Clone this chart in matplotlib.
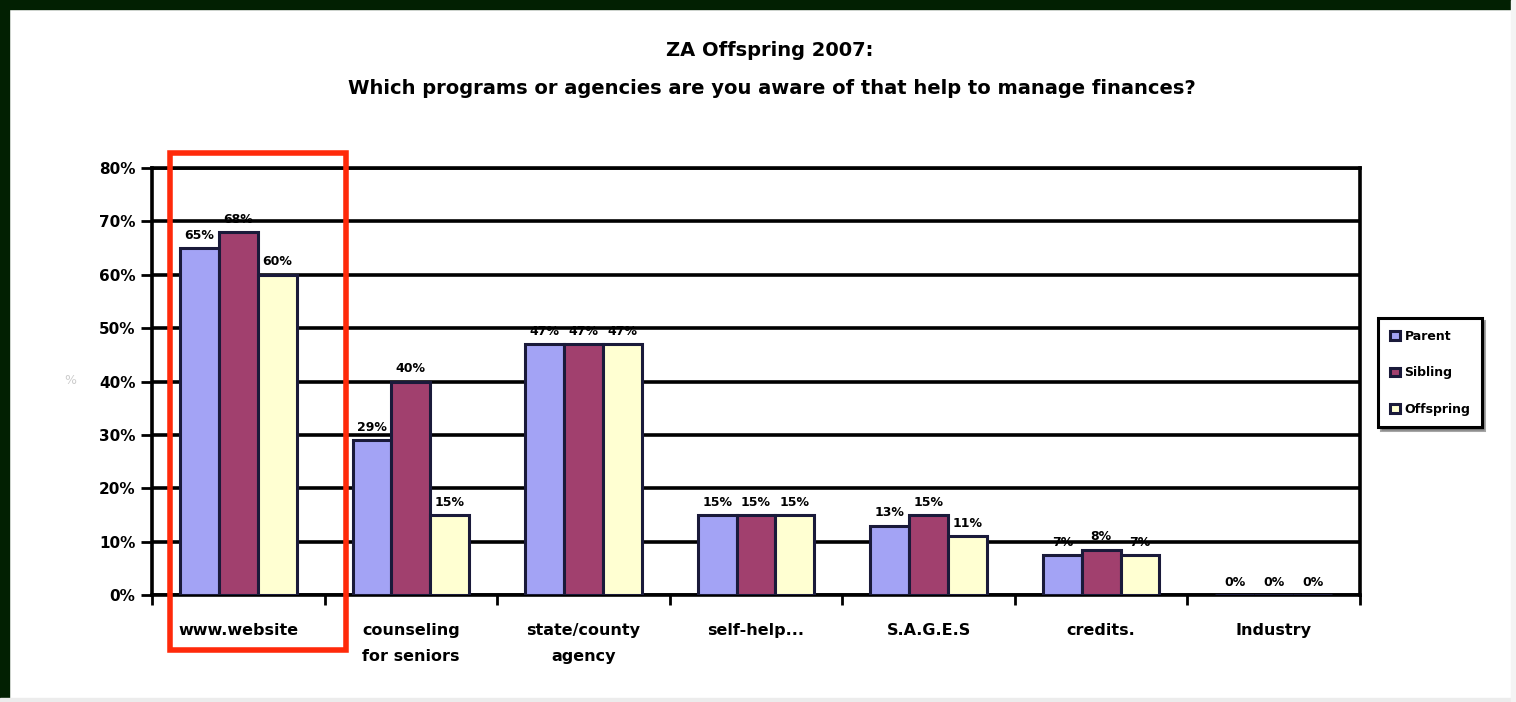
import matplotlib
matplotlib.use("Agg")
import matplotlib.pyplot as plt
import numpy as np
from matplotlib.patches import Rectangle

# ---- data ----
categories = ["www.website", "counseling\nfor seniors", "state/county\nagency", "self-help...",
              "S.A.G.E.S", "credits.", "Industry"]
series_names = ["Parent", "Sibling", "Offspring"]
parent = [0.65, 0.29, 0.47, 0.15, 0.13, 0.075, 0.0]
sibling = [0.68, 0.40, 0.47, 0.15, 0.15, 0.085, 0.0]
offspring = [0.60, 0.15, 0.47, 0.15, 0.11, 0.075, 0.0]
value_labels = [
    ["65%", "29%", "47%", "15%", "13%", "7%", "0%"],
    ["68%", "40%", "47%", "15%", "15%", "8%", "0%"],
    ["60%", "15%", "47%", "15%", "11%", "7%", "0%"],
]
ytick_values = [0, 0.1, 0.2, 0.3, 0.4, 0.5, 0.6, 0.7, 0.8]
ytick_labels = ["0%", "10%", "20%", "30%", "40%", "50%", "60%", "70%", "80%"]
title_lines = ["ZA Offspring 2007:",
               "Which programs or agencies are you aware of that help to manage finances?"]

colors = ["#A3A3F5", "#A1406E", "#FFFFD2"]

W, H = 1516, 702
fig = plt.figure(figsize=(W / 100, H / 100), dpi=100)
fig.patch.set_facecolor("white")

def px(x0, y0, x1, y1):
    return [x0 / W, 1 - y1 / H, (x1 - x0) / W, (y1 - y0) / H]

ax = fig.add_axes(px(152, 168, 1360, 595))
x = np.arange(len(categories))
bw = 0.225
all_series = [parent, sibling, offspring]
for i, (vals, col, name) in enumerate(zip(all_series, colors, series_names)):
    pos = x + (i - 1) * bw
    ax.bar(pos, vals, width=bw, color=col, edgecolor="#1a1a3a", linewidth=2.2,
           label=name, zorder=3)
    for xb, v, lab in zip(pos, vals, value_labels[i]):
        ax.text(xb, v + 0.012, lab, ha="center", va="bottom", fontsize=9,
                fontweight="bold", color="black", zorder=4)

ax.set_xlim(-0.5, len(categories) - 0.5)
ax.set_ylim(0, 0.8)
ax.set_yticks(ytick_values)
ax.set_yticklabels(ytick_labels, fontsize=11, fontweight="bold")
ax.yaxis.grid(True, color="black", linewidth=2.6, zorder=0)
ax.set_axisbelow(True)
ax.set_xticks(x)
ax.set_xticklabels(categories, fontsize=11.5, fontweight="bold", linespacing=1.9)
ax.tick_params(axis="x", which="major", length=0, pad=20)
ax.set_xticks(np.arange(-0.5, len(categories)), minor=True)
ax.tick_params(axis="x", which="minor", length=7, width=2, direction="out")
ax.tick_params(axis="y", length=8, width=2, direction="out", pad=4)
for s in ax.spines.values():
    s.set_linewidth(2.6)
    s.set_color("black")
ax.set_facecolor("white")

# faint y label
fig.text(70 / W, 1 - 380 / H, "%", fontsize=9, color="#cccccc", ha="center", va="center")

# title
fig.text(770 / W, 1 - 50 / H, title_lines[0], ha="center", va="center", fontsize=14,
         fontweight="bold")
fig.text(772 / W, 1 - 88 / H, title_lines[1], ha="center", va="center", fontsize=14,
         fontweight="bold")

# legend
leg = fig.legend(loc="upper left", bbox_to_anchor=(1372 / W, 1 - 312 / H),
                 prop={"weight": "bold", "size": 9}, frameon=True,
                 fancybox=False, shadow=True, handlelength=0.8, handletextpad=0.4,
                 borderpad=0.9, labelspacing=1.9)
leg.get_frame().set_edgecolor("black")
leg.get_frame().set_linewidth(2.2)

# frame of the screenshot
fig.patches.append(Rectangle((0, 1 - 9 / H), 1, 9 / H, transform=fig.transFigure,
                             color="#022002", zorder=10))
fig.patches.append(Rectangle((0, 0), 9 / W, 1, transform=fig.transFigure,
                             color="#022002", zorder=10))
fig.patches.append(Rectangle((0, 0), 1, 4 / H, transform=fig.transFigure,
                             color="#ececec", zorder=10))
fig.patches.append(Rectangle((1 - 5 / W, 0), 5 / W, 1, transform=fig.transFigure,
                             color="#f4f4f4", zorder=10))

# red highlight box
fig.patches.append(Rectangle((170 / W, 1 - 650 / H), (346 - 170) / W, (650 - 153) / H,
                             transform=fig.transFigure, fill=False,
                             edgecolor="#FF2a0a", linewidth=4, zorder=11))

fig.savefig("out.png", dpi=100)
